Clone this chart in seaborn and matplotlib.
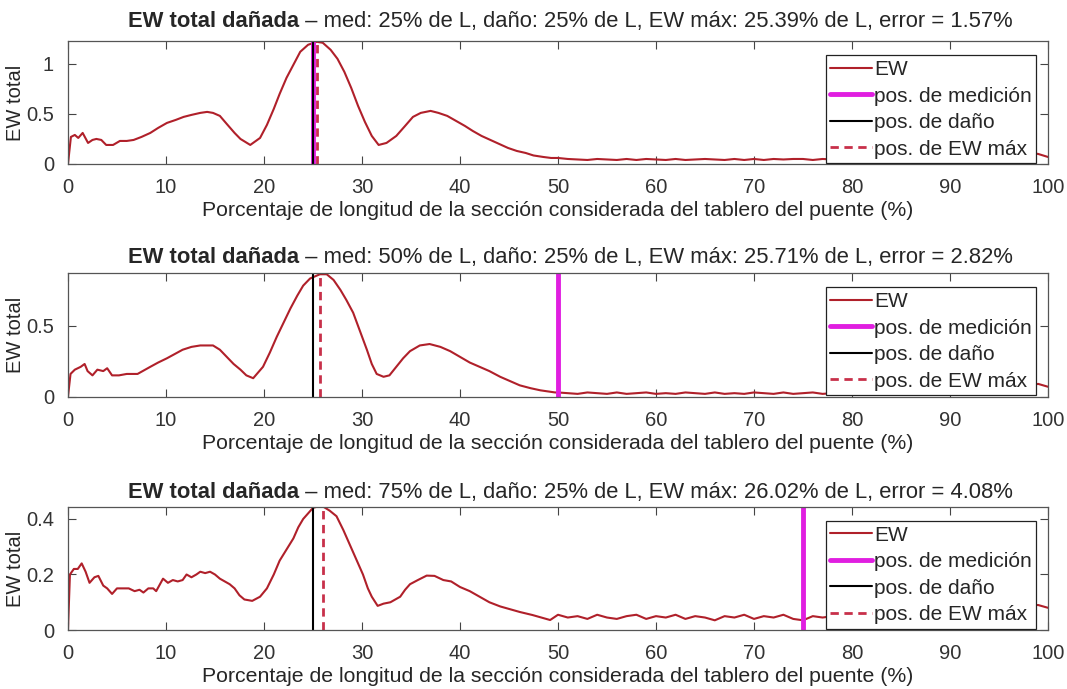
import numpy as np
import pandas as pd
import seaborn as sns
import matplotlib
matplotlib.use("Agg")
import matplotlib.pyplot as plt

# ---------------- data ----------------
cola_x = list(range(50, 101))

x_med25 = [0, 0.3, 0.7, 1.05, 1.5, 2.05, 2.5, 2.9, 3.4, 3.9, 4.6, 5.3, 6, 6.7, 7.5, 8.4, 9.2,
           10.1, 11, 11.8, 12.6, 13.5, 14.2, 14.8, 15.5, 16.2, 17, 17.6, 18.6, 19.6, 20.3,
           21, 21.6, 22.3, 23, 23.7, 24.5, 25.39, 26, 26.8, 27.5, 28.2, 28.9, 29.6, 30.3,
           31, 31.7, 32.5, 33.5, 34.4, 35.2, 36, 37, 37.8, 38.7, 39.6, 40.5, 41.3, 42.2,
           43.1, 44, 44.9, 45.8, 46.7, 47.5, 48.5, 49.3] + cola_x
ew_med25 = [0.0, 0.27, 0.29, 0.26, 0.31, 0.21, 0.24, 0.25, 0.24, 0.19, 0.19, 0.23, 0.23, 0.24,
            0.27, 0.31, 0.36, 0.41, 0.44, 0.47, 0.49, 0.51, 0.52, 0.51, 0.48, 0.40, 0.31, 0.25,
            0.19, 0.26, 0.39, 0.55, 0.70, 0.86, 0.99, 1.12, 1.19, 1.22, 1.21, 1.14, 1.05, 0.92,
            0.76, 0.58, 0.42, 0.28, 0.19, 0.21, 0.28, 0.38, 0.47, 0.51, 0.53, 0.51, 0.48, 0.43,
            0.38, 0.33, 0.28, 0.24, 0.20, 0.16, 0.13, 0.11, 0.085, 0.07, 0.06] + [
            0.06, 0.05, 0.045, 0.04, 0.05, 0.045, 0.04, 0.05, 0.04, 0.05, 0.045, 0.04, 0.05,
            0.04, 0.045, 0.05, 0.045, 0.04, 0.05, 0.04, 0.05, 0.04, 0.05, 0.045, 0.05, 0.05,
            0.04, 0.05, 0.045, 0.04, 0.05, 0.05, 0.04, 0.05, 0.05, 0.04, 0.05, 0.05, 0.045,
            0.05, 0.05, 0.055, 0.06, 0.055, 0.06, 0.07, 0.08, 0.10, 0.115, 0.10, 0.07]

x_med50 = [0, 0.26, 0.7, 1.3, 1.7, 2.0, 2.5, 3.0, 3.6, 4.0, 4.5, 5.2, 6, 7.1, 8.4, 9.2, 10.1,
           10.9, 11.7, 12.6, 13.5, 14.2, 14.8, 15.5, 16.2, 16.9, 17.6, 18.2, 18.9, 19.9, 20.6,
           21.3, 22, 22.7, 23.4, 24, 24.7, 25.71, 26.4, 27.1, 27.8, 28.4, 29.1, 29.8, 30.5, 31,
           31.5, 32.2, 32.8, 33.5, 34.2, 34.9, 35.9, 36.9, 38, 39, 40, 41, 42, 43, 44.1, 45.1,
           46.1, 47.2, 48.2, 49.7] + cola_x
ew_med50 = [0.0, 0.16, 0.19, 0.21, 0.23, 0.18, 0.15, 0.19, 0.18, 0.20, 0.15, 0.15, 0.16, 0.16,
            0.21, 0.24, 0.27, 0.30, 0.33, 0.35, 0.36, 0.36, 0.36, 0.33, 0.28, 0.23, 0.19, 0.15,
            0.13, 0.21, 0.31, 0.42, 0.52, 0.62, 0.71, 0.78, 0.83, 0.86, 0.86, 0.82, 0.75, 0.68,
            0.59, 0.46, 0.33, 0.23, 0.16, 0.14, 0.15, 0.21, 0.27, 0.32, 0.36, 0.37, 0.35, 0.32,
            0.28, 0.24, 0.21, 0.18, 0.14, 0.11, 0.08, 0.06, 0.045, 0.03] + [
            0.03, 0.025, 0.02, 0.03, 0.025, 0.02, 0.03, 0.02, 0.025, 0.03, 0.02, 0.025, 0.02,
            0.03, 0.025, 0.02, 0.03, 0.02, 0.025, 0.02, 0.03, 0.025, 0.02, 0.03, 0.02, 0.025,
            0.03, 0.02, 0.025, 0.02, 0.03, 0.02, 0.025, 0.03, 0.02, 0.025, 0.02, 0.03, 0.025,
            0.02, 0.03, 0.025, 0.03, 0.035, 0.03, 0.04, 0.05, 0.06, 0.08, 0.09, 0.07]

x_med75 = [0, 0.2, 0.6, 1.0, 1.4, 1.8, 2.2, 2.7, 3.1, 3.6, 4.0, 4.5, 5, 5.6, 6.2, 6.8, 7.3,
           7.7, 8.2, 8.7, 9.0, 9.7, 10.2, 10.7, 11.2, 11.7, 12.1, 12.6, 13.1, 13.5, 14, 14.5,
           15, 15.5, 16, 16.5, 17, 17.5, 18, 18.8, 19.6, 20.3, 21, 21.6, 22.3, 23, 23.5, 24,
           24.5, 25, 25.5, 26.02, 26.7, 27.4, 28.1, 28.6, 29.1, 29.6, 30.1, 30.6, 31, 31.6,
           32.2, 32.9, 33.4, 33.9, 34.4, 34.9, 35.7, 36.6, 37.4, 38.3, 39.1, 40, 41, 42, 43,
           44.1, 45.1, 46.1, 47.4, 48.3, 49.2] + cola_x
ew_med75 = [0.0, 0.20, 0.22, 0.22, 0.24, 0.21, 0.17, 0.19, 0.195, 0.16, 0.15, 0.13, 0.15, 0.15,
            0.15, 0.14, 0.145, 0.135, 0.15, 0.15, 0.14, 0.185, 0.17, 0.18, 0.175, 0.18, 0.20,
            0.19, 0.20, 0.21, 0.205, 0.21, 0.20, 0.185, 0.175, 0.165, 0.15, 0.125, 0.11, 0.105,
            0.12, 0.15, 0.20, 0.25, 0.29, 0.33, 0.37, 0.40, 0.42, 0.44, 0.445, 0.445, 0.43, 0.41,
            0.36, 0.32, 0.28, 0.24, 0.20, 0.15, 0.12, 0.087, 0.095, 0.10, 0.11, 0.12, 0.145,
            0.165, 0.18, 0.196, 0.195, 0.18, 0.175, 0.155, 0.14, 0.12, 0.10, 0.085, 0.075, 0.065,
            0.054, 0.045, 0.036] + [
            0.055, 0.045, 0.05, 0.04, 0.055, 0.045, 0.04, 0.05, 0.055, 0.04, 0.05, 0.045, 0.055,
            0.04, 0.05, 0.045, 0.035, 0.05, 0.045, 0.055, 0.04, 0.05, 0.045, 0.055, 0.04, 0.035,
            0.05, 0.045, 0.05, 0.055, 0.045, 0.05, 0.04, 0.055, 0.05, 0.045, 0.05, 0.055, 0.05,
            0.05, 0.055, 0.05, 0.06, 0.055, 0.06, 0.065, 0.07, 0.08, 0.09, 0.09, 0.08]

pos_medicion = [25, 50, 75]
pos_dano = [25, 25, 25]
pos_ew_max = [25.39, 25.71, 26.02]
errores = ["1.57", "2.82", "4.08"]
curvas = [(x_med25, ew_med25), (x_med50, ew_med50), (x_med75, ew_med75)]
y_lims = [1.223, 0.866, 0.443]
y_ticks = [[0, 0.5, 1], [0, 0.5], [0, 0.2, 0.4]]
x_ticks = list(range(0, 101, 10))

sns.set_theme(style="ticks")
plt.rcParams["font.family"] = ["Liberation Sans", "DejaVu Sans"]

fig = plt.figure(figsize=(10.67, 6.89), dpi=100)
bottoms = [0.762, 0.4242, 0.0856]
heights = [0.1778, 0.179, 0.1785]
titulo_y = [1.08, 1.04, 1.03]
axes = [fig.add_axes([0.0637, b, 0.9185, h]) for b, h in zip(bottoms, heights)]

c_ew = "#b0202a"
c_med = "#e01ee0"
c_max = "#c8304a"
titulos = []

for i, ax in enumerate(axes):
    xs, ys = curvas[i]
    df = pd.DataFrame({"x": xs, "ew": ys})
    sns.lineplot(data=df, x="x", y="ew", ax=ax, color=c_ew, lw=1.5, label="EW", sort=False)
    ax.axvline(pos_medicion[i], color=c_med, lw=3.5, label="pos. de medición")
    ax.axvline(pos_dano[i], color="black", lw=1.5, label="pos. de daño")
    ax.axvline(pos_ew_max[i], color=c_max, lw=2, ls=(0, (3, 2)), label="pos. de EW máx")

    ax.set_xlim(0, 100)
    ax.set_ylim(0, y_lims[i])
    ax.set_xticks(x_ticks)
    ax.set_yticks(y_ticks[i])
    ax.set_yticklabels([f"{t:g}" for t in y_ticks[i]])
    ax.tick_params(direction="in", length=6, width=0.8, color="#444444", top=True, right=True,
                   labelsize=14.5, pad=10)
    for lab in ax.get_xticklabels() + ax.get_yticklabels():
        lab.set_color("#333333")
    for s in ax.spines.values():
        s.set_color("#555555")
        s.set_linewidth(0.9)
    ax.set_xlabel("Porcentaje de longitud de la sección considerada del tablero del puente (%)",
                  fontsize=15.3, labelpad=3)
    ax.set_ylabel("EW total", fontsize=14.5, labelpad=1)

    leg = ax.legend(loc="upper right", bbox_to_anchor=(0.988, 0.886), borderaxespad=0,
                    fontsize=15, frameon=True, fancybox=False, framealpha=1,
                    handlelength=2.0, handletextpad=0.1, labelspacing=0.36, borderpad=0.22)
    leg.get_frame().set_edgecolor("#222222")
    leg.get_frame().set_linewidth(0.9)

    t1 = ax.text(0.1, titulo_y[i], "EW total dañada", transform=ax.transAxes, fontsize=15.8,
                 fontweight="bold", ha="left", va="bottom")
    resto = (f" – med: {pos_medicion[i]}% de L, daño: {pos_dano[i]}% de L, "
             f"EW máx: {pos_ew_max[i]:.2f}% de L, error = {errores[i]}%")
    t2 = ax.annotate(resto, xy=(1, 0), xycoords=t1, fontsize=15.8, ha="left", va="bottom")
    titulos.append((ax, t1, t2))

fig.canvas.draw()
r = fig.canvas.get_renderer()
for ax, t1, t2 in titulos:
    w = t1.get_window_extent(r).width + t2.get_window_extent(r).width
    aw = ax.get_window_extent(r).width
    t1.set_x(0.513 - w / 2 / aw)

fig.savefig("out.png", dpi=100)
